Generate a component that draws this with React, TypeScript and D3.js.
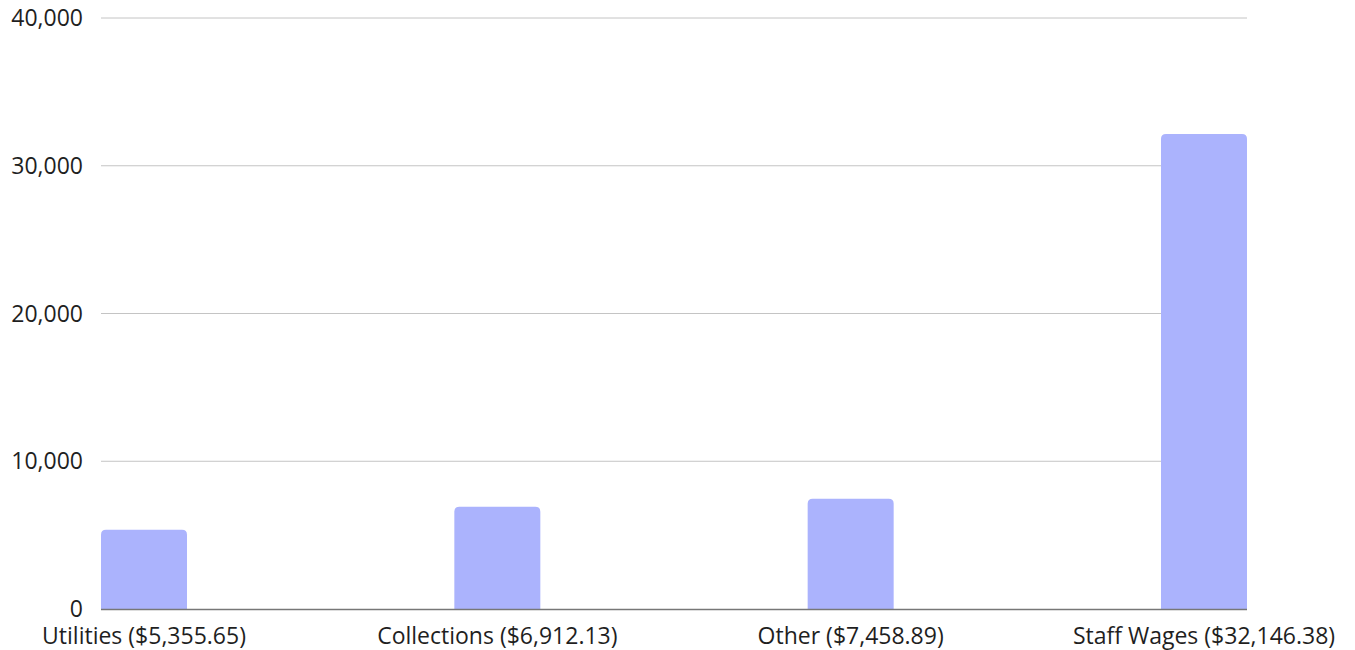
import { useRef, useEffect } from 'react';
import * as d3 from 'd3';

const categories = ['Utilities', 'Collections', 'Other', 'Staff Wages'];
const amounts = [5355.65, 6912.13, 7458.89, 32146.38];
const yTicks = [0, 10000, 20000, 30000, 40000];

const W = 1355;
const H = 650;

const App = () => {
    const svgRef = useRef<SVGSVGElement | null>(null);

    useEffect(() => {
        if (!svgRef.current) return;
        const svg = d3.select(svgRef.current);
        svg.selectAll('*').remove();

        const left = 101, right = 1247, top = 18, bottom = 609;

        const x = d3.scaleBand<string>()
            .domain(categories)
            .range([left, right])
            .paddingInner(0.7566)
            .paddingOuter(0);

        const y = d3.scaleLinear().domain([0, 40000]).range([bottom, top]);

        const font = "'Open Sans', sans-serif";

        // gridlines
        svg.append('g')
            .selectAll('line')
            .data(yTicks.filter(t => t > 0))
            .join('line')
            .attr('x1', left)
            .attr('x2', right)
            .attr('y1', d => y(d))
            .attr('y2', d => y(d))
            .attr('stroke', '#c4c4c4')
            .attr('stroke-width', 1);

        // y labels
        svg.append('g')
            .selectAll('text')
            .data(yTicks)
            .join('text')
            .attr('x', 83)
            .attr('y', d => y(d))
            .attr('dy', '0.35em')
            .attr('text-anchor', 'end')
            .attr('font-family', font)
            .attr('font-size', 23)
            .attr('fill', '#1f1f1f')
            .text(d => d3.format(',')(d));

        // bars with rounded top corners
        const r = 5;
        svg.append('g')
            .selectAll('path')
            .data(amounts)
            .join('path')
            .attr('fill', '#abb3fd')
            .attr('d', (d, i) => {
                const x0 = x(categories[i])!;
                const x1 = x0 + x.bandwidth();
                const yt = y(d);
                const yb = y(0);
                return `M${x0},${yb}V${yt + r}Q${x0},${yt} ${x0 + r},${yt}H${x1 - r}Q${x1},${yt} ${x1},${yt + r}V${yb}Z`;
            });

        // baseline
        svg.append('line')
            .attr('x1', left)
            .attr('x2', right)
            .attr('y1', bottom + 0.5)
            .attr('y2', bottom + 0.5)
            .attr('stroke', '#777')
            .attr('stroke-width', 1.3);

        // x labels
        const money = d3.format(',.2f');
        svg.append('g')
            .selectAll('text')
            .data(amounts)
            .join('text')
            .attr('x', (_d, i) => x(categories[i])! + x.bandwidth() / 2)
            .attr('y', 644)
            .attr('text-anchor', 'middle')
            .attr('font-family', font)
            .attr('font-size', 23)
            .attr('fill', '#1f1f1f')
            .text((d, i) => `${categories[i]} ($${money(d)})`);
    }, []);

    return (
        <svg
            ref={svgRef}
            width={W}
            height={H}
            style={{ position: 'absolute', left: 0, top: 0, background: '#fff' }}
        />
    );
};

export default App;
